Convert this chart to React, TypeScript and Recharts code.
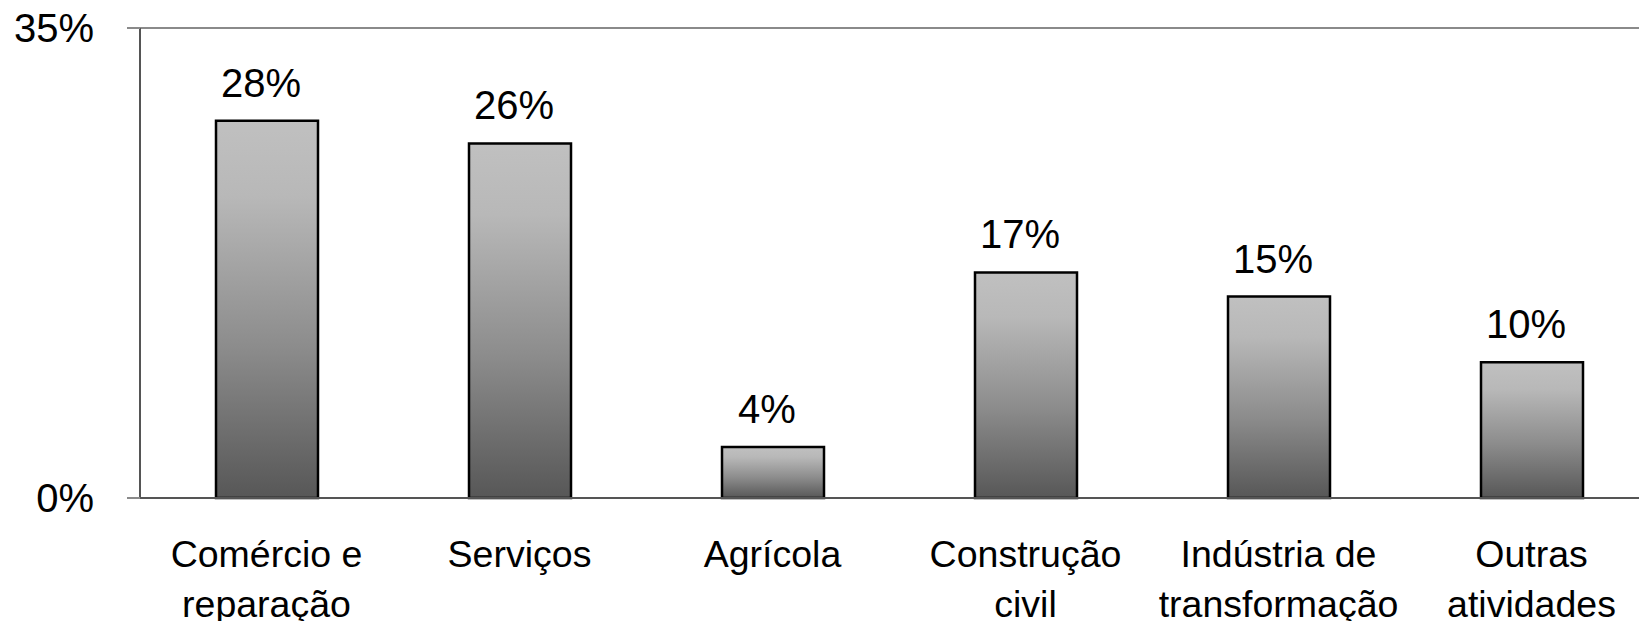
import React from 'react';
import { BarChart, Bar, XAxis, YAxis, ReferenceLine, LabelList } from 'recharts';

const categories = [
  'Comércio e\nreparação',
  'Serviços',
  'Agrícola',
  'Construção\ncivil',
  'Indústria de\ntransformação',
  'Outras\natividades',
];
const shares = [28.1, 26.4, 3.8, 16.8, 15.0, 10.1];
const yTicks = [0, 35];
const edgeTicks = [0, 1, 2, 3, 4, 5, 6];

const data = categories.map((name, i) => ({ name, value: shares[i], idx: i + 0.5 }));

const FONT = '"Liberation Sans", Arial, sans-serif';

const CategoryTick = (props: any) => {
  const { x, y, payload } = props;
  const lines = String(payload.value).split('\n');
  return (
    <text x={x} y={y} textAnchor="middle" fontFamily={FONT} fontSize={37.5} fill="#000">
      {lines.map((line, i) => (
        <tspan key={i} x={x} dy={i === 0 ? 61 : 50}>
          {line}
        </tspan>
      ))}
    </text>
  );
};

const ValueLabel = (props: any) => {
  const { x, y, width, value } = props;
  return (
    <text
      x={Number(x) + Number(width) / 2 - 6}
      y={Number(y) - 24}
      textAnchor="middle"
      fontFamily={FONT}
      fontSize={40}
      fill="#000"
    >
      {`${Math.round(Number(value))}%`}
    </text>
  );
};

const App: React.FC = () => {
  return (
    <div style={{ position: 'fixed', top: 0, left: 0, width: 1639, height: 621, overflow: 'hidden', background: '#fff' }}>
      <BarChart width={1660} height={621} data={data} margin={{ top: 28, right: 2, left: 0, bottom: 0 }}>
        <defs>
          <linearGradient id="barFill" x1="0" y1="0" x2="0" y2="1">
            <stop offset="0%" stopColor="#c0c0c0" />
            <stop offset="20%" stopColor="#b8b8b8" />
            <stop offset="60%" stopColor="#8c8c8c" />
            <stop offset="100%" stopColor="#575757" />
          </linearGradient>
        </defs>
        <XAxis
          xAxisId="edges"
          type="number"
          dataKey="idx"
          domain={[0, 6]}
          ticks={edgeTicks}
          height={0}
          axisLine={false}
          tickSize={12}
          tickLine={{ stroke: '#8a8a8a', strokeWidth: 2 }}
          tick={() => <g />}
        />
        <XAxis
          xAxisId="cat"
          dataKey="name"
          height={123}
          interval={0}
          axisLine={{ stroke: '#555', strokeWidth: 2 }}
          tickLine={false}
          tick={<CategoryTick />}
        />
        <YAxis
          domain={[0, 35]}
          ticks={yTicks}
          width={140}
          tickSize={13}
          tickMargin={33}
          axisLine={{ stroke: '#555', strokeWidth: 2 }}
          tickLine={{ stroke: '#8a8a8a', strokeWidth: 2 }}
          tick={{ fontFamily: FONT, fontSize: 40, fill: '#000' }}
          tickFormatter={(v: number) => `${v}%`}
        />
        <ReferenceLine xAxisId="cat" y={35} stroke="#8a8a8a" strokeWidth={2} />
        <Bar
          xAxisId="cat"
          dataKey="value"
          barSize={102}
          fill="url(#barFill)"
          stroke="#000"
          strokeWidth={2.5}
          isAnimationActive={false}
        >
          <LabelList dataKey="value" content={<ValueLabel />} />
        </Bar>
      </BarChart>
    </div>
  );
};

export default App;
